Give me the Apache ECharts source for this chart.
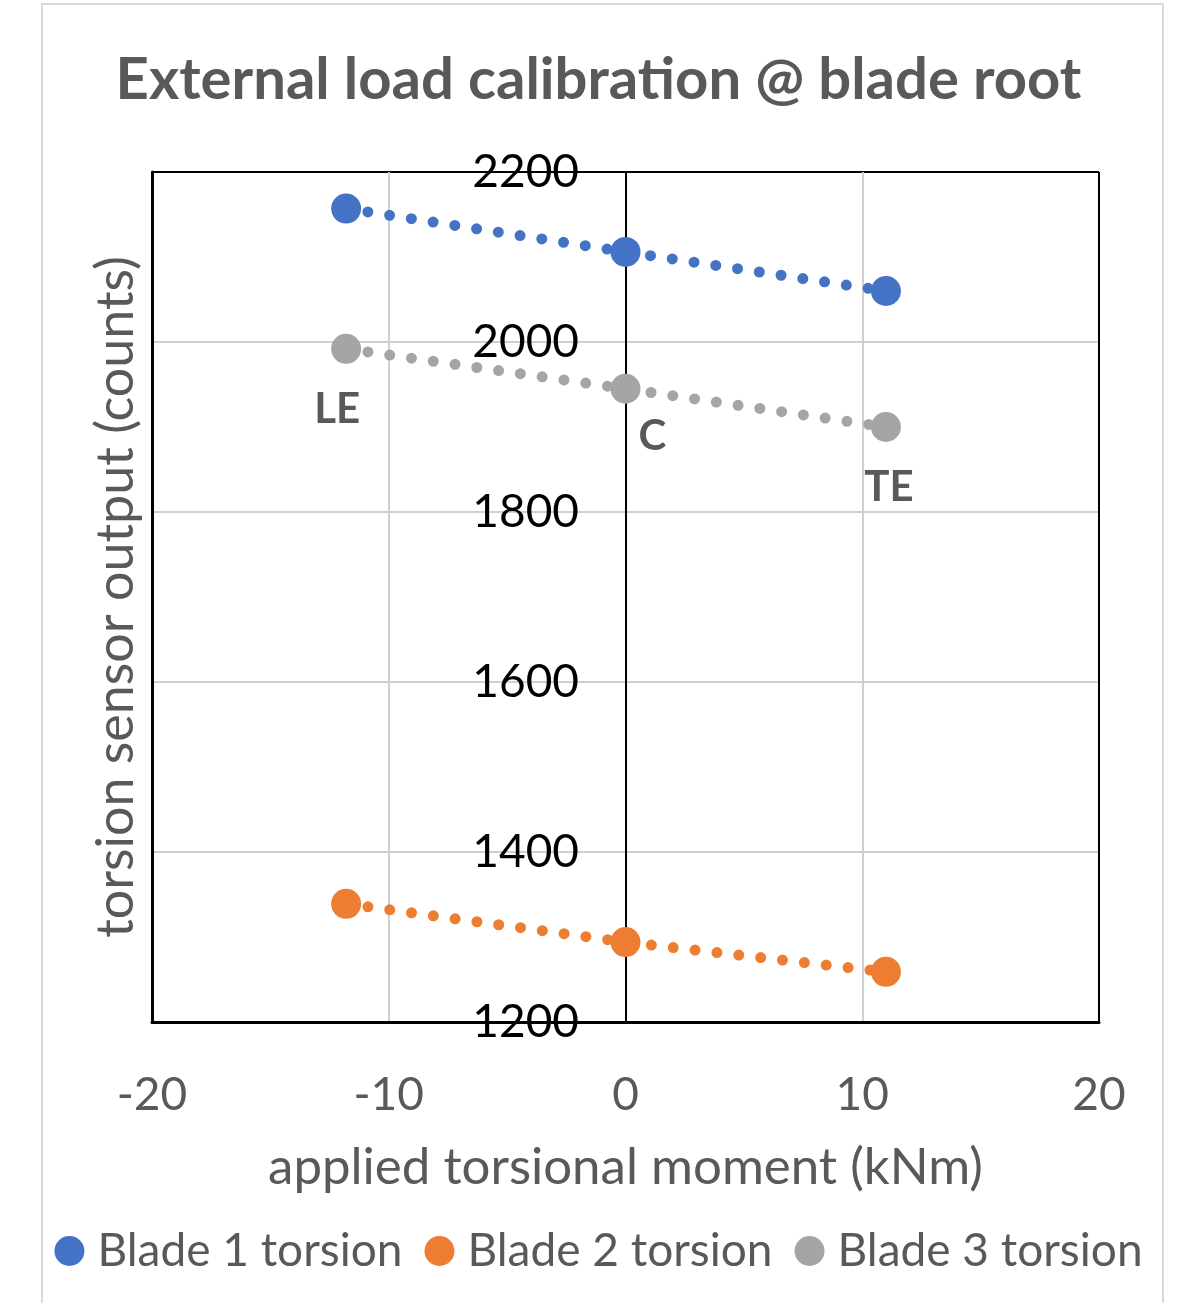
<!DOCTYPE html>
<html>
<head>
<meta charset="utf-8">
<script src="https://cdn.jsdelivr.net/npm/echarts@6/dist/echarts.min.js"></script>
<style>
  html, body { margin: 0; padding: 0; background: #fff; }
  #chart { width: 1197px; height: 1303px; }
</style>
</head>
<body>
<div id="chart"></div>
<script>
// applied torsional moment positions (kNm)
const moments = [-11.8, 0, 11];
const positionLabels = ['LE', 'C', 'TE'];
const blade1 = [2157, 2106, 2060];
const blade2 = [1339, 1294, 1259];
const blade3 = [1992, 1945, 1900];
const seriesNames = ['Blade 1 torsion', 'Blade 2 torsion', 'Blade 3 torsion'];
const colors = ['#4472C4', '#ED7D31', '#A5A5A5'];

const font = 'Lato, "Open Sans", sans-serif';
const gridGray = '#d0d0d0';

function pairs(vals) {
    return moments.map((x, i) => [x, vals[i]]);
}

const chart = echarts.init(document.getElementById('chart'));

function makeSeries(name, vals, color, withLabels) {
    let s = {
        name: name,
        type: 'line',
        data: pairs(vals),
        symbol: 'circle',
        symbolSize: 30,
        itemStyle: { color: color },
        lineStyle: { color: color, width: 11, type: [0, 22], cap: 'round' },
        z: 3
    };
    if (withLabels) {
        s.data = pairs(vals).map((p, i) => {
            let off = [-9, 61];
            if (i == 1) off = [27, 48];
            if (i == 2) off = [3, 60];
            return {
                value: p,
                label: {
                    show: true,
                    formatter: positionLabels[i],
                    position: 'inside',
                    offset: off,
                    color: '#595959',
                    fontFamily: font,
                    fontWeight: 'bold',
                    fontSize: 42
                }
            };
        });
    }
    return s;
}

const option = {
    animation: false,
    color: colors,
    graphic: [{
        type: 'rect',
        shape: { x: 42, y: 4, width: 1121, height: 1310 },
        style: { fill: 'none', stroke: '#d9d9d9', lineWidth: 2 },
        silent: true,
        z: -10
    }],
    title: {
        text: 'External load calibration @ blade root',
        left: 'center',
        top: 46,
        textStyle: {
            fontFamily: font,
            fontWeight: 'bold',
            fontSize: 58,
            color: '#595959'
        }
    },
    grid: {
        left: 152,
        right: 98,
        top: 172,
        bottom: 281,
        containLabel: false,
        outerBoundsMode: 'none'
    },
    legend: {
        bottom: 24,
        left: 'center',
        icon: 'circle',
        itemWidth: 30,
        itemHeight: 30,
        itemGap: 22,
        data: seriesNames,
        textStyle: {
            fontFamily: font,
            fontSize: 46,
            color: '#595959',
            padding: [0, 0, 0, 8]
        }
    },
    xAxis: {
        type: 'value',
        min: -20,
        max: 20,
        interval: 10,
        name: 'applied torsional moment (kNm)',
        nameLocation: 'middle',
        nameGap: 120,
        nameTextStyle: { fontFamily: font, fontSize: 51, color: '#595959' },
        axisLine: { show: true, onZero: false, lineStyle: { color: '#000', width: 3 } },
        axisTick: { show: false },
        axisLabel: { margin: 50, fontFamily: font, fontSize: 46, color: '#595959' },
        splitLine: {
            show: true,
            lineStyle: { color: ['#000', gridGray, '#000', gridGray, '#000'], width: 2 }
        }
    },
    yAxis: [{
        type: 'value',
        position: 'left',
        min: 1200,
        max: 2200,
        interval: 200,
        name: 'torsion sensor output (counts)',
        nameLocation: 'middle',
        nameGap: 10,
        nameTextStyle: { fontFamily: font, fontSize: 52, color: '#595959' },
        axisLine: { show: true, onZero: false, lineStyle: { color: '#000', width: 3 } },
        axisTick: { show: false },
        axisLabel: { show: false },
        splitLine: {
            show: true,
            lineStyle: { color: ['#000', gridGray, gridGray, gridGray, gridGray, '#000'], width: 2 }
        }
    }, {
        // tick labels sit beside the x = 0 line, as in the original
        type: 'value',
        position: 'left',
        offset: -473,
        min: 1200,
        max: 2200,
        interval: 200,
        axisLine: { show: false },
        axisTick: { show: false },
        splitLine: { show: false },
        axisLabel: {
            margin: 46,
            fontFamily: font,
            fontSize: 46,
            color: '#000',
            formatter: v => String(v)
        }
    }],
    series: [
        makeSeries(seriesNames[0], blade1, colors[0], false),
        makeSeries(seriesNames[1], blade2, colors[1], false),
        makeSeries(seriesNames[2], blade3, colors[2], true)
    ]
};

chart.setOption(option);
</script>
</body>
</html>
